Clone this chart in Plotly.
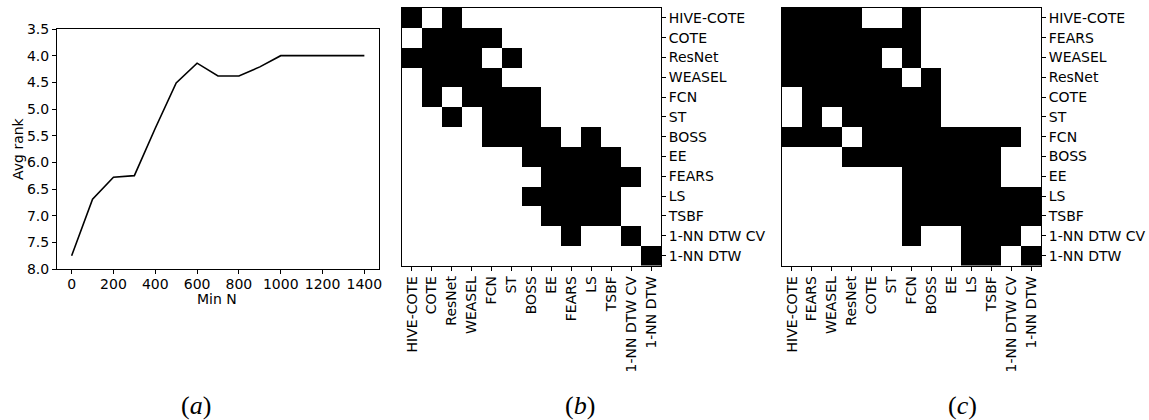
import plotly.graph_objects as go

W, H = 1149, 420

# Panel (a) data
min_n = [0, 100, 200, 300, 400, 500, 600, 700, 800, 900, 1000, 1100, 1200, 1300, 1400]
avg_rank = [7.75, 6.69, 6.28, 6.25, 5.36, 4.51, 4.14, 4.38, 4.38, 4.21, 4.0, 4.0, 4.0, 4.0, 4.0]

# Panel (b)
names_b = ["HIVE-COTE", "COTE", "ResNet", "WEASEL", "FCN", "ST", "BOSS", "EE",
           "FEARS", "LS", "TSBF", "1-NN DTW CV", "1-NN DTW"]
mat_b = [
    [1,0,1,0,0,0,0,0,0,0,0,0,0],
    [0,1,1,1,1,0,0,0,0,0,0,0,0],
    [1,1,1,1,0,1,0,0,0,0,0,0,0],
    [0,1,1,1,1,0,0,0,0,0,0,0,0],
    [0,1,0,1,1,1,1,0,0,0,0,0,0],
    [0,0,1,0,1,1,1,0,0,0,0,0,0],
    [0,0,0,0,1,1,1,1,0,1,0,0,0],
    [0,0,0,0,0,0,1,1,1,1,1,0,0],
    [0,0,0,0,0,0,0,1,1,1,1,1,0],
    [0,0,0,0,0,0,1,1,1,1,1,0,0],
    [0,0,0,0,0,0,0,1,1,1,1,0,0],
    [0,0,0,0,0,0,0,0,1,0,0,1,0],
    [0,0,0,0,0,0,0,0,0,0,0,0,1],
]

# Panel (c)
names_c = ["HIVE-COTE", "FEARS", "WEASEL", "ResNet", "COTE", "ST", "FCN", "BOSS",
           "EE", "LS", "TSBF", "1-NN DTW CV", "1-NN DTW"]
mat_c = [
    [1,1,1,1,0,0,1,0,0,0,0,0,0],
    [1,1,1,1,1,1,1,0,0,0,0,0,0],
    [1,1,1,1,1,0,1,0,0,0,0,0,0],
    [1,1,1,1,1,1,0,1,0,0,0,0,0],
    [0,1,1,1,1,1,1,1,0,0,0,0,0],
    [0,1,0,1,1,1,1,1,0,0,0,0,0],
    [1,1,1,0,1,1,1,1,1,1,1,1,0],
    [0,0,0,1,1,1,1,1,1,1,1,0,0],
    [0,0,0,0,0,0,1,1,1,1,1,0,0],
    [0,0,0,0,0,0,1,1,1,1,1,1,1],
    [0,0,0,0,0,0,1,1,1,1,1,1,1],
    [0,0,0,0,0,0,1,0,0,1,1,1,0],
    [0,0,0,0,0,0,0,0,0,1,1,0,1],
]

FONT = "DejaVu Sans"

def xd(a, b):
    return [a / W, b / W]

def yd(top, bottom):
    return [1 - bottom / H, 1 - top / H]

fig = go.Figure()

fig.add_trace(go.Scatter(x=min_n, y=avg_rank, mode="lines",
                         line=dict(color="black", width=1.6),
                         xaxis="x", yaxis="y", showlegend=False))

bw = [[0, "white"], [1, "black"]]
fig.add_trace(go.Heatmap(z=mat_b, x=names_b, y=names_b, colorscale=bw, zmin=0, zmax=1,
                         showscale=False, xaxis="x2", yaxis="y2"))
fig.add_trace(go.Heatmap(z=mat_c, x=names_c, y=names_c, colorscale=bw, zmin=0, zmax=1,
                         showscale=False, xaxis="x3", yaxis="y3"))

axis_common = dict(showline=True, mirror=True, linecolor="black", linewidth=1,
                   ticks="outside", ticklen=4, tickwidth=1, tickcolor="black",
                   showgrid=False, zeroline=False, automargin=False,
                   tickfont=dict(family=FONT, size=14, color="black"))

fig.update_layout(
    width=W, height=H,
    margin=dict(l=0, r=0, t=0, b=0, autoexpand=False),
    paper_bgcolor="white", plot_bgcolor="white",
    xaxis=dict(domain=xd(57, 379), range=[-70, 1470],
               tickvals=[0, 200, 400, 600, 800, 1000, 1200, 1400],
               ticklabelstandoff=-2,
               anchor="y", **axis_common),
    yaxis=dict(domain=yd(29, 269), range=[8.0, 3.5],
               tickvals=[3.5, 4.0, 4.5, 5.0, 5.5, 6.0, 6.5, 7.0, 7.5, 8.0],
               ticktext=["3.5", "4.0", "4.5", "5.0", "5.5", "6.0", "6.5", "7.0", "7.5", "8.0"],
               anchor="x", **axis_common),
    xaxis2=dict(domain=xd(402, 661), anchor="y2", tickangle=-90, **axis_common),
    yaxis2=dict(domain=yd(8, 265.5), anchor="x2", side="right", autorange="reversed", **axis_common),
    xaxis3=dict(domain=xd(782, 1041), anchor="y3", tickangle=-90, **axis_common),
    yaxis3=dict(domain=yd(8, 265.5), anchor="x3", side="right", autorange="reversed", **axis_common),
)

fig.add_annotation(text="Min N", x=217 / W, y=1 - 299 / H, xref="paper", yref="paper",
                   showarrow=False, xanchor="center", yanchor="middle",
                   font=dict(family=FONT, size=14, color="black"))
fig.add_annotation(text="Avg rank", x=18 / W, y=1 - 149 / H, xref="paper", yref="paper",
                   showarrow=False, xanchor="center", yanchor="middle", textangle=-90,
                   font=dict(family=FONT, size=14, color="black"))

for lbl, cx in [("a", 196), ("b", 580), ("c", 962)]:
    fig.add_annotation(text=f"(<i>{lbl}</i>)", x=cx / W, y=1 - 405 / H,
                       xref="paper", yref="paper", showarrow=False,
                       xanchor="center", yanchor="middle",
                       font=dict(family="Liberation Serif", size=26, color="black"))

fig.write_html("out.html")
